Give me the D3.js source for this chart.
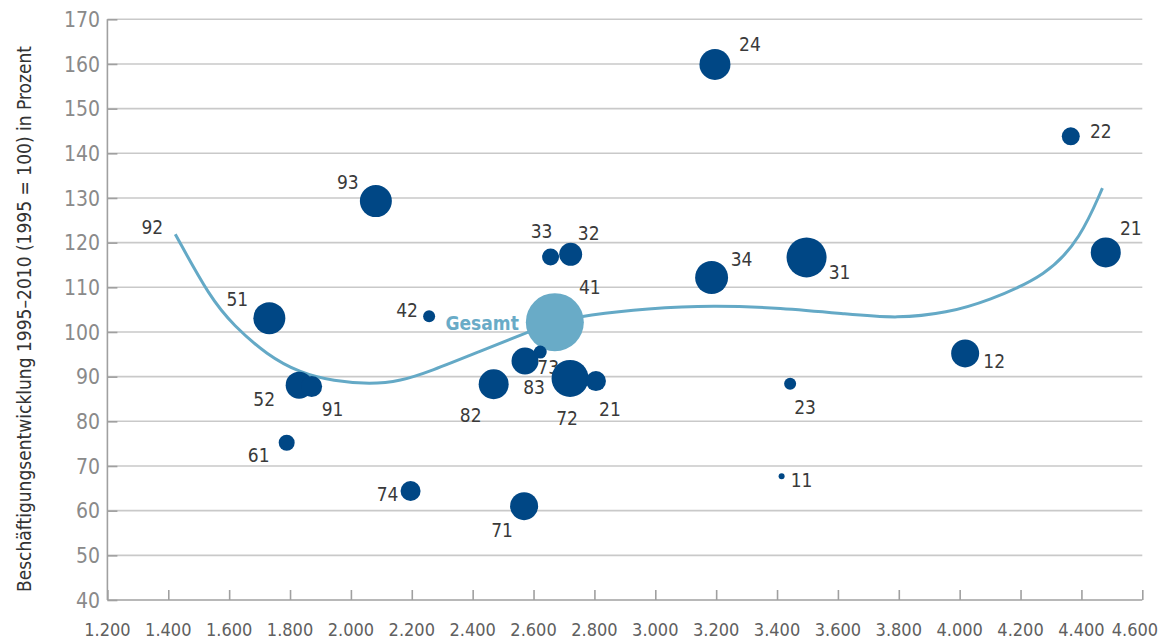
<!DOCTYPE html>
<html>
<head>
<meta charset="utf-8">
<script src="https://cdn.jsdelivr.net/npm/d3@7"></script>
<style>
  body { margin: 0; background: #fff; }
  text { font-family: "DejaVu Sans Condensed", "Liberation Sans", sans-serif; }
</style>
</head>
<body>
<svg></svg>
<script>
const width = 1164;
const height = 639;

// Wirtschaftszweige (codes), x value, y value, bubble size
const codes = ["24", "22", "93", "92", "33", "32", "21", "34", "31", "51", "42", "41", "73", "83", "82", "72", "21", "52", "91", "61", "74", "71", "23", "11", "12"];
const xValues = [3196, 4365, 2082, 1423, 2656, 2722, 4480, 3185, 3497, 1732, 2257, 2670, 2622, 2572, 2469, 2720, 2805, 1830, 1871, 1789, 2196, 2569, 3443, 3415, 4018];
const yValues = [159.9, 143.8, 129.3, 121.9, 116.8, 117.4, 117.8, 112.2, 116.7, 103.1, 103.5, 102.2, 95.5, 93.5, 88.3, 89.6, 89.0, 88.1, 87.8, 75.2, 64.4, 61.0, 88.4, 67.7, 95.2];
const sizes = [240, 81, 256, 0, 72, 132, 225, 272, 400, 256, 36, 0, 42, 182, 225, 342, 100, 182, 110, 64, 100, 196, 36, 9, 196];

const totalLabel = "Gesamt";
const totalX = 2670;
const totalY = 102.2;
const totalSize = 841;

// trend curve
const trendX = [1423, 1538, 1614, 1725, 1834, 1943, 2064, 2163, 2261, 2425, 2557, 2668, 2777, 2974, 3191, 3411, 3631, 3795, 3960, 4091, 4288, 4397, 4469];
const trendY = [121.9, 107.6, 101.5, 94.8, 90.8, 89.0, 88.3, 89.0, 91.2, 95.7, 99.3, 102.3, 103.8, 105.3, 106.0, 105.4, 104.0, 103.0, 104.3, 106.9, 112.7, 121.0, 132.2];

const xTicks = [1200, 1400, 1600, 1800, 2000, 2200, 2400, 2600, 2800, 3000, 3200, 3400, 3600, 3800, 4000, 4200, 4400, 4600];
const yTicks = [40, 50, 60, 70, 80, 90, 100, 110, 120, 130, 140, 150, 160, 170];
const yTitle = "Beschäftigungsentwicklung 1995–2010 (1995 = 100) in Prozent";

// label placement relative to bubble centre (layout only)
const labelOffsets = [[35, -20], [30, -5], [-28, -19], [-23, -7], [-9, -26], [18, -21], [25, -24], [30, -18], [33, 15], [-32, -19],
                      [-22, -6], [35, -35], [8, 15], [9, 26], [-23, 31], [-3, 40], [14, 28], [-35, 14], [21, 23], [-28, 12],
                      [-23, 3], [-22, 24], [15, 23], [20, 4], [29, 8]];

const points = codes.map((c, i) => ({ code: c, x: xValues[i], y: yValues[i], size: sizes[i], off: labelOffsets[i] }));

const xScale = d3.scaleLinear()
                    .domain([1200, 4600])
                    .range([107.4, 1142.3]);

const yScale = d3.scaleLinear()
                    .domain([40, 170])
                    .range([600, 19.3]);

const rScale = d3.scaleSqrt()
                    .domain([0, totalSize])
                    .range([0, 29]);

const svg = d3.select('svg')
                .attr('width', width)
                .attr('height', height);

// grid lines
svg.append('g')
    .selectAll('line')
    .data(yTicks.slice(1))
    .enter()
    .append('line')
        .attr('x1', xScale(1200))
        .attr('x2', xScale(4600))
        .attr('y1', d => yScale(d))
        .attr('y2', d => yScale(d))
        .attr('stroke', '#c9c9c9')
        .attr('stroke-width', 1.6);

const yAxis = d3.axisRight(yScale)
                    .tickValues(yTicks)
                    .tickSize(10)
                    .tickFormat('');

svg.append('g')
    .attr('transform', 'translate(' + xScale(1200) + ',0)')
    .call(yAxis)
    .call(g => g.selectAll('line, path').attr('stroke', '#a0a0a0').attr('stroke-width', 1.6))
    .call(g => g.select('.domain').attr('d', 'M0,' + yScale(40) + 'V' + yScale(170)));

svg.append('g')
    .selectAll('text')
    .data(yTicks)
    .enter()
    .append('text')
        .attr('x', 100)
        .attr('y', d => yScale(d))
        .attr('dy', '0.36em')
        .attr('text-anchor', 'end')
        .attr('font-size', '21px')
        .attr('fill', '#8a8a8a')
        .text(d => d);

const xAxis = d3.axisTop(xScale)
                    .tickValues(xTicks)
                    .tickSize(10)
                    .tickFormat('');

svg.append('g')
    .attr('transform', 'translate(0,' + yScale(40) + ')')
    .call(xAxis)
    .call(g => g.selectAll('line, path').attr('stroke', '#a0a0a0').attr('stroke-width', 1.6))
    .call(g => g.select('.domain').attr('d', 'M' + xScale(1200) + ',0H' + xScale(4600)));

svg.append('g')
    .selectAll('text')
    .data(xTicks)
    .enter()
    .append('text')
        .attr('x', d => Math.min(xScale(d), width - 29))
        .attr('y', 636)
        .attr('text-anchor', 'middle')
        .attr('font-size', '18px')
        .attr('fill', '#606060')
        .text(d => d3.format(',')(d).replace(',', '.'));

svg.append('text')
    .attr('transform', 'translate(24,' + 319 + ') rotate(-90)')
    .attr('text-anchor', 'middle')
    .attr('dy', '0.35em')
    .attr('font-size', '19px')
    .attr('fill', '#333')
    .text(yTitle);

// trend line
const line = d3.line()
                .x(d => xScale(d[0]))
                .y(d => yScale(d[1]))
                .curve(d3.curveBasis);

svg.append('path')
    .datum(trendX.map((x, i) => [x, trendY[i]]))
    .attr('d', line)
    .attr('fill', 'none')
    .attr('stroke', '#64a9c6')
    .attr('stroke-width', 3);

// labels under the bubbles
svg.append('g')
    .selectAll('text')
    .data(points)
    .enter()
    .append('text')
        .attr('x', d => xScale(d.x) + d.off[0])
        .attr('y', d => yScale(d.y) + d.off[1])
        .attr('dy', '0.36em')
        .attr('text-anchor', 'middle')
        .attr('font-size', '19px')
        .attr('fill', '#3a3a3a')
        .text(d => d.code);

svg.append('circle')
    .attr('cx', xScale(totalX))
    .attr('cy', yScale(totalY))
    .attr('r', rScale(totalSize))
    .attr('fill', '#69abc7');

svg.append('text')
    .attr('x', xScale(totalX) - 36)
    .attr('y', yScale(totalY) + 1)
    .attr('dy', '0.36em')
    .attr('text-anchor', 'end')
    .attr('font-size', '19px')
    .attr('font-weight', 'bold')
    .attr('fill', '#69abc7')
    .text(totalLabel);

svg.append('g')
    .selectAll('circle')
    .data(points.filter(d => d.size > 0))
    .enter()
    .append('circle')
        .attr('cx', d => xScale(d.x))
        .attr('cy', d => yScale(d.y))
        .attr('r', d => rScale(d.size))
        .attr('fill', '#004785');
</script>
</body>
</html>
